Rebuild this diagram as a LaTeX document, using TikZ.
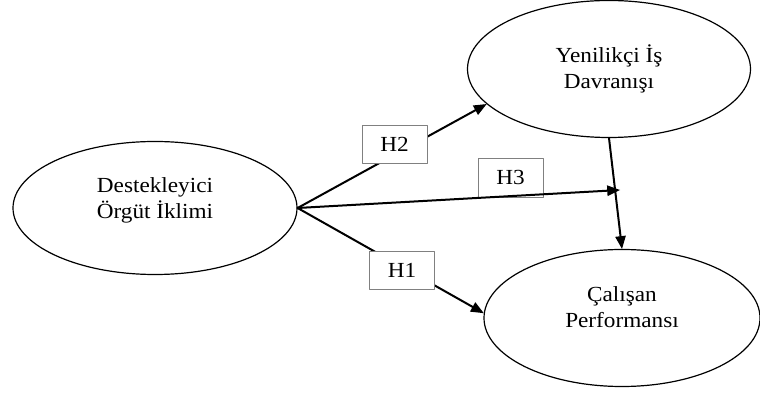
\documentclass[tikz,border=0pt]{standalone}
\usepackage{fontspec}
\setmainfont{Liberation Serif}[FakeStretch=1.08]
\usetikzlibrary{shapes, calc, arrows}

\begin{document}
\begin{tikzpicture}[line cap=round,line join=round,>=triangle 45,x=1pt,y=1pt,
  konstrukt/.style={draw=black, line width=1.2pt, ellipse, inner sep=0pt, align=center,
    font=\fontsize{21.5}{26}\selectfont},
  hipotez/.style={draw=gray, fill=white, line width=0.9pt, inner sep=0pt,
    minimum width=65, minimum height=38, font=\fontsize{21.5}{26}\selectfont},
  yol/.style={->, line width=2pt}]
\useasboundingbox (0,0) rectangle (760,396);
% konstruktlar
\node[konstrukt, minimum width=284, minimum height=133] (dok) at (155,188) {Destekleyici\\Örgüt İklimi\\[-6pt]};
\node[konstrukt, minimum width=283, minimum height=137] (yid) at (609,327) {Yenilikçi İş\\Davranışı};
\node[konstrukt, minimum width=276, minimum height=137] (cp) at (622,78) {Çalışan\\Performansı\\[-4pt]};
\coordinate (h3uc) at (620,206);
% yollar
\draw[yol] (dok.east) -- (yid.196);
\draw[yol] (dok.east) -- (cp.178);
\draw[yol] (yid.south) -- (cp.north);
\node[hipotez] (h2) at (394.5,252) {H2};
\node[hipotez] (h1) at (402,126) {H1};
\node[hipotez, minimum height=39] (h3) at (510.5,218.5) {H3};
\draw[yol] (dok.east) -- (h3uc);
\end{tikzpicture}
\end{document}
